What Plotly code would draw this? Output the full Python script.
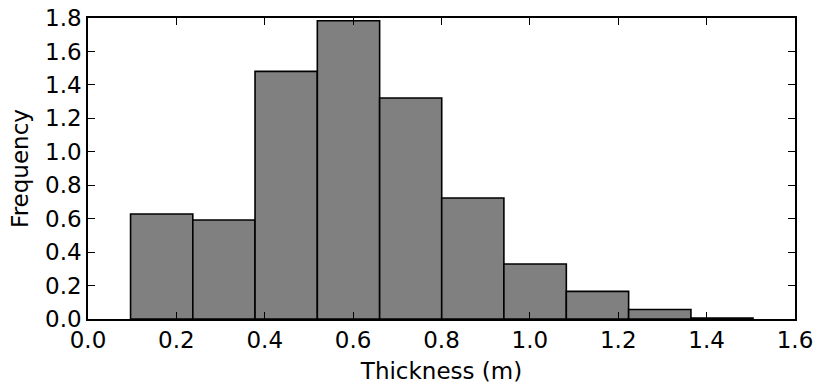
import plotly.graph_objects as go

bin_edges = [0.0963, 0.2372, 0.3780, 0.5190, 0.6600, 0.8005, 0.9412, 1.0825, 1.2235, 1.3645, 1.5050]
frequency = [0.628, 0.592, 1.481, 1.784, 1.322, 0.724, 0.329, 0.165, 0.057, 0.006]
x_ticks = [0.0, 0.2, 0.4, 0.6, 0.8, 1.0, 1.2, 1.4, 1.6]
y_ticks = [0.0, 0.2, 0.4, 0.6, 0.8, 1.0, 1.2, 1.4, 1.6, 1.8]

centers = [(bin_edges[i] + bin_edges[i + 1]) / 2 for i in range(len(frequency))]
widths = [bin_edges[i + 1] - bin_edges[i] for i in range(len(frequency))]

FONT = "DejaVu Sans"
FS = 23

fig = go.Figure(
    go.Bar(
        x=centers,
        y=frequency,
        width=widths,
        marker=dict(color="#808080", line=dict(color="black", width=1.6)),
        hoverinfo="x+y",
    )
)

axis_common = dict(
    showgrid=False,
    zeroline=False,
    showline=True,
    linecolor="black",
    linewidth=1.6,
    mirror="ticks",
    ticks="inside",
    ticklen=7,
    tickwidth=1,
    tickcolor="black",
    tickfont=dict(family=FONT, size=FS, color="black"),
)

fig.update_layout(
    width=820,
    height=387,
    margin=dict(l=88, r=25, t=18, b=68),
    paper_bgcolor="white",
    plot_bgcolor="white",
    showlegend=False,
    font=dict(family=FONT, size=FS, color="black"),
    xaxis=dict(
        range=[0, 1.6],
        tickvals=x_ticks,
        ticktext=[f"{v:.1f}" for v in x_ticks],
        title=dict(text="Thickness (m)", font=dict(family=FONT, size=FS), standoff=10),
        automargin=False,
        **axis_common,
    ),
    yaxis=dict(
        range=[0, 1.8],
        tickvals=y_ticks,
        ticktext=[f"{v:.1f}" for v in y_ticks],
        title=dict(text="Frequency", font=dict(family=FONT, size=FS), standoff=10),
        automargin=False,
        **axis_common,
    ),
)

fig.write_html("out.html")
